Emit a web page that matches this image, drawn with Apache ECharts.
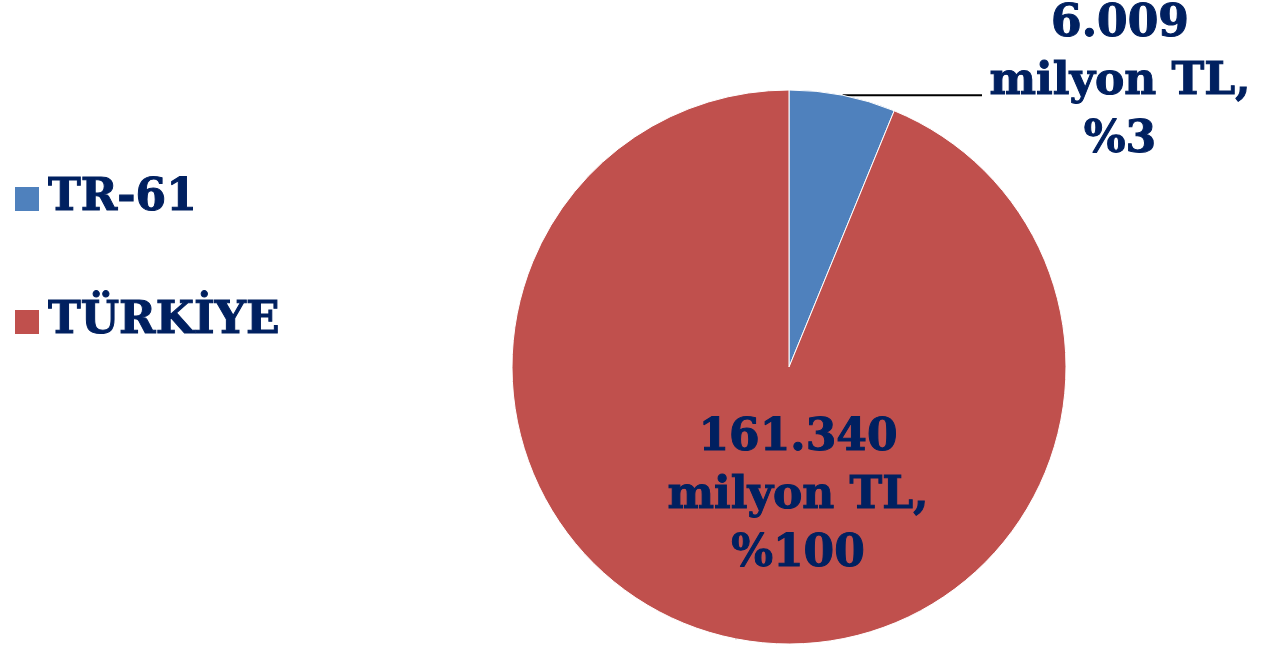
<!DOCTYPE html>
<html>
<head>
<meta charset="utf-8">
<script src="https://cdn.jsdelivr.net/npm/echarts@6/dist/echarts.min.js"></script>
<style>
  html, body { margin: 0; padding: 0; background: #fff; }
  #chart { width: 1262px; height: 647px; }
</style>
</head>
<body>
<div id="chart"></div>
<script>
// regions and label values (milyon TL, percent as printed)
var names = ['TR-61', 'TÜRKİYE']
var amounts = ['6.009', '161.340']
var percents = ['%3', '%100']
// slice shares as drawn in the picture
var shares = [6.2, 93.8]
var colors = ['#4F81BD', '#C0504D']

var textColor = '#002060'
var font = 'DejaVu Serif'

var chart = echarts.init(document.getElementById('chart'))

var data = names.map(function (n, i) {
  return {
    name: n,
    value: shares[i],
    itemStyle: { color: colors[i] }
  }
})

chart.setOption({
  animation: false,
  legend: {
    orient: 'vertical',
    left: 8,
    top: 168,
    icon: 'rect',
    itemWidth: 26,
    itemHeight: 26,
    itemGap: 71,
    textStyle: {
      color: textColor,
      fontFamily: font,
      fontWeight: 'bold',
      fontSize: 44,
      lineHeight: 52,
      textBorderColor: textColor,
      textBorderWidth: 1,
      padding: [0, 0, 0, 3]
    }
  },
  series: [{
    type: 'pie',
    center: [789, 367],
    radius: 277,
    startAngle: 90,
    clockwise: true,
    itemStyle: { borderColor: '#fff', borderWidth: 1 },
    label: {
      show: true,
      color: textColor,
      fontFamily: font,
      fontWeight: 'bold',
      fontSize: 44,
      lineHeight: 58,
      textBorderColor: textColor,
      textBorderWidth: 1,
      align: 'center',
      formatter: function (p) {
        return amounts[p.dataIndex] + '\nmilyon TL,\n' + percents[p.dataIndex]
      }
    },
    labelLine: {
      show: true,
      length: 10,
      length2: 10,
      lineStyle: { color: '#000', width: 2 }
    },
    labelLayout: function (p) {
      if (p.dataIndex === 0) {
        var s = p.labelLinePoints[0]
        return {
          x: 1120,
          y: 83,
          align: 'center',
          verticalAlign: 'middle',
          labelLinePoints: [s, [982, s[1]], [982, s[1]]]
        }
      }
      return {
        x: 798,
        y: 497,
        align: 'center',
        verticalAlign: 'middle'
      }
    },
    data: data
  }]
})
</script>
</body>
</html>
